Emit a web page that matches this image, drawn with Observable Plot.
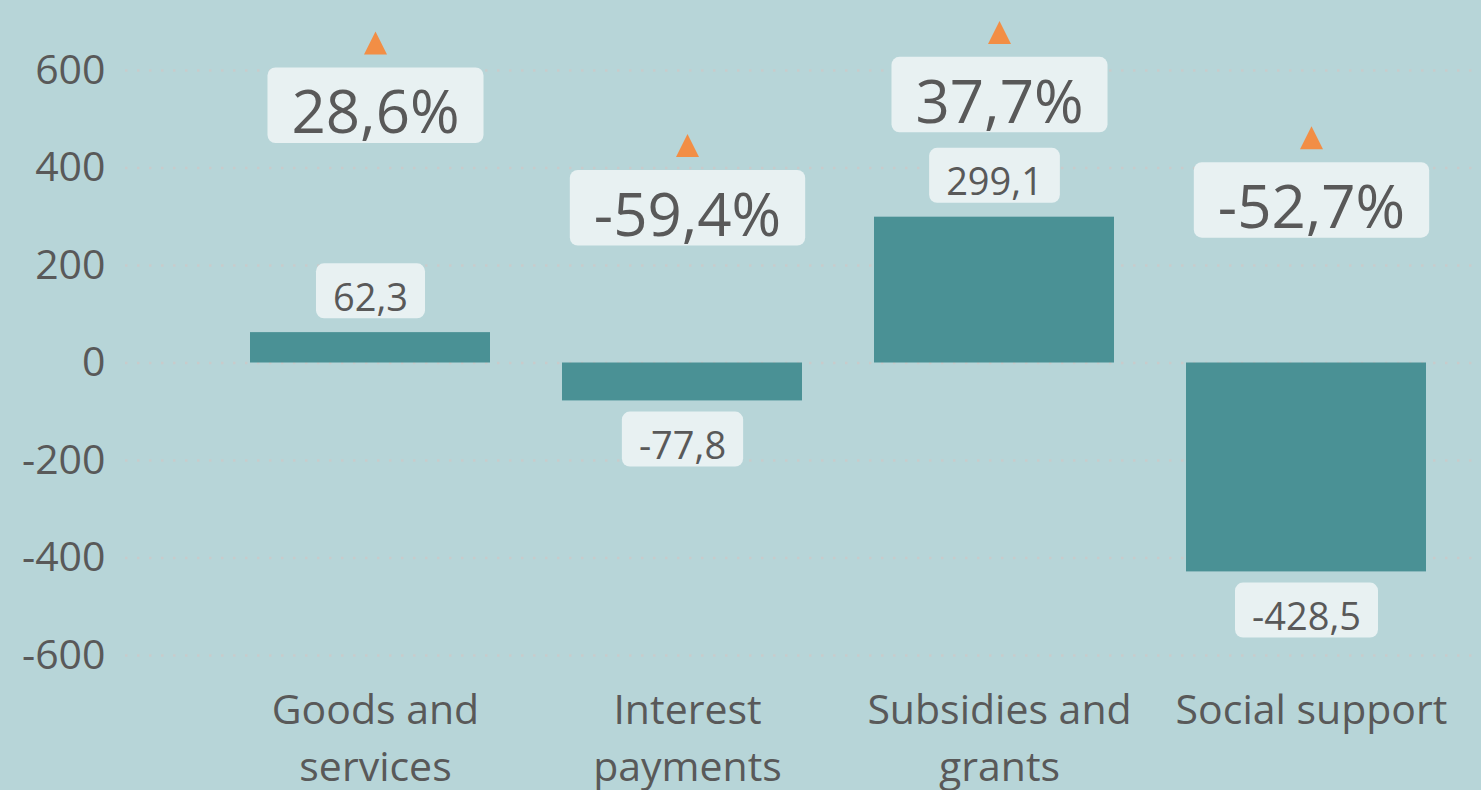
<!DOCTYPE html>
<html>
<head>
<meta charset="utf-8">
<script src="https://cdn.jsdelivr.net/npm/d3@7"></script>
<script src="https://cdn.jsdelivr.net/npm/@observablehq/plot@0.6"></script>
<style>
  html, body { margin: 0; padding: 0; background: #b7d5d8; overflow: hidden; }
  #chart svg { display: block; background: #b7d5d8; }
</style>
</head>
<body>
<div id="chart"></div>
<script>
// ---- Data ----
const categories = ["Goods and services", "Interest payments", "Subsidies and grants", "Social support"];
const values = [62.3, -77.8, 299.1, -428.5];
const changes = [28.6, -59.4, 37.7, -52.7];
const yTicks = [-600, -400, -200, 0, 200, 400, 600];

const rows = categories.map((c, i) => ({category: c, value: values[i], change: changes[i]}));

// secondary (hidden) axis for the % change markers, expressed in primary units
const pctToPrimary = p => 588 + 2.39 * p;

const fmt1 = v => v.toFixed(1).replace(".", ",");
const wrap = (s, max = 14) => {
  const words = s.split(" "), lines = [];
  let cur = "";
  for (const w of words) {
    if (cur && (cur + " " + w).length > max) { lines.push(cur); cur = w; }
    else cur = cur ? cur + " " + w : w;
  }
  if (cur) lines.push(cur);
  return lines.join("\n");
};

const triangle = {
  draw(context, size) {
    const r = Math.sqrt(size / Math.PI);
    context.moveTo(0, -r);
    context.lineTo(r, r);
    context.lineTo(-r, r);
    context.closePath();
  }
};

const textColor = "#595959";
const font = "'Open Sans', 'Noto Sans', sans-serif";

const chart = Plot.plot({
  width: 1481,
  height: 790,
  marginLeft: 125,
  marginRight: 0,
  marginTop: 70,
  marginBottom: 135,
  style: {background: "#b7d5d8", fontFamily: font, color: textColor},
  x: {domain: categories, range: [219, 1467], paddingInner: 0.2308, paddingOuter: 0.1154, axis: null},
  y: {domain: [-600, 600], axis: null},
  marks: [
    Plot.ruleY(yTicks, {stroke: "#c8cbcb", strokeWidth: 2.5, strokeDasharray: "2.5 9.5"}),
    Plot.axisY(yTicks, {tickSize: 0, tickPadding: 20, fontSize: 41, tickFormat: d => String(d), fill: textColor, label: null}),
    Plot.barY(rows, {x: "category", y: "value", fill: "#4a9195", dx: -5}),
    // value labels: above positive bars
    Plot.text(rows, {
      filter: d => d.value >= 0,
      x: "category", y: "value", text: d => fmt1(d.value),
      dx: -5, dy: -34, fontSize: 38, fill: textColor, lineAnchor: "middle"
    }),
    // value labels: below negative bars
    Plot.text(rows, {
      filter: d => d.value < 0,
      x: "category", y: "value", text: d => fmt1(d.value),
      dx: -5, dy: 46, fontSize: 38, fill: textColor, lineAnchor: "middle"
    }),
    Plot.dot(rows, {x: "category", y: d => pctToPrimary(d.change), symbol: triangle, r: 11.5, fill: "#f28e45", stroke: "none"}),
    Plot.text(rows, {
      x: "category", y: d => pctToPrimary(d.change), text: d => fmt1(d.change) + "%",
      dy: 71, fontSize: 60, fill: textColor, lineAnchor: "middle"
    }),
    Plot.text(categories, {
      x: d => d, frameAnchor: "bottom", text: d => wrap(d), dy: 28,
      fontSize: 41, lineHeight: 1.39, lineAnchor: "top", fill: textColor
    })
  ]
});

document.getElementById("chart").appendChild(chart);

// draw rounded label boxes behind texts
function addBoxes(g, padX, boxH, shift) {
  if (!g) return;
  g.querySelectorAll("text").forEach(t => {
    let bb;
    try { bb = t.getBBox(); } catch (e) { return; }
    const cx = bb.x + bb.width / 2;
    const cy = bb.y + bb.height / 2 + shift;
    const w = bb.width + 2 * padX;
    const r = document.createElementNS("http://www.w3.org/2000/svg", "rect");
    r.setAttribute("x", cx - w / 2);
    r.setAttribute("y", cy - boxH / 2);
    r.setAttribute("width", w);
    r.setAttribute("height", boxH);
    r.setAttribute("rx", 8);
    r.setAttribute("fill", "#e8f1f2");
    const tr = t.getAttribute("transform");
    if (tr) r.setAttribute("transform", tr);
    t.parentNode.insertBefore(r, t);
  });
}
const textGroups = chart.querySelectorAll('g[aria-label="text"]');
addBoxes(textGroups[0], 17, 55, -5);
addBoxes(textGroups[1], 17, 55, -5);
addBoxes(textGroups[2], 24, 75.5, -5);
</script>
</body>
</html>
